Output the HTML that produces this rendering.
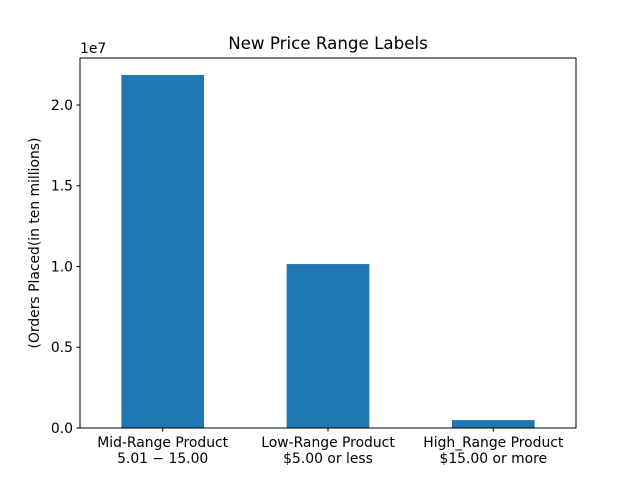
<!DOCTYPE html>
<html><head><meta charset="utf-8"><style>
body{margin:0;background:#fff}
svg{font-family:"DejaVu Sans","Liberation Sans",sans-serif}
</style></head><body>
<svg id="chart" width="640" height="480" viewBox="0 0 640 480">
<rect width="640" height="480" fill="#fff"/>
<text x="328" y="49" font-size="16.7" text-anchor="middle">New Price Range Labels</text>
<text x="80" y="53" font-size="13.9">1e7</text>
<text transform="translate(39,243) rotate(-90)" font-size="13.9" text-anchor="middle">(Orders Placed(in ten millions)</text>
<g id="bars"></g>
<g id="yticks"></g>
<g id="xticks"></g>
<rect x="80" y="58" width="496" height="370" fill="none" stroke="#000" stroke-width="1"/>
</svg>
<script>
const categories = [["Mid-Range Product","5.01 − 15.00"],["Low-Range Product","$5.00 or less"],["High_Range Product","$15.00 or more"]];
const values = [21860000, 10150000, 490000];
const yTicks = [0, 5000000, 10000000, 15000000, 20000000];
const yTickLabels = ["0.0","0.5","1.0","1.5","2.0"];
const L=80,R=576,T=58,B=428,yMax=22910000;
const ns="http://www.w3.org/2000/svg";
const sx=i=>L+(i+0.5)*(R-L)/categories.length;
const sy=v=>B-(v/yMax)*(B-T);
const bw=0.5*(R-L)/categories.length;
function mk(t,a,p){const e=document.createElementNS(ns,t);for(const k in a)e.setAttribute(k,a[k]);p.appendChild(e);return e;}
const gb=document.getElementById('bars'),gy=document.getElementById('yticks'),gx=document.getElementById('xticks');
values.forEach((v,i)=>{
 const r=mk('rect',{x:sx(i)-bw/2,y:sy(v),width:bw,height:B-sy(v),fill:'#1f77b4'},gb);
 
 
 const t=mk('line',{x1:sx(i),x2:sx(i),y1:B,y2:B+3.5,stroke:'#000'},gx);
 
 
 categories[i].forEach((s,j)=>{
  const tx=mk('text',{x:sx(i),y:B+19+j*16,'font-size':13.9,'text-anchor':'middle'},gx);
  tx.textContent=s;
  
  
 });
});
yTicks.forEach((v,i)=>{
 const t=mk('line',{x1:L-3.5,x2:L,y1:sy(v),y2:sy(v),stroke:'#000'},gy);
 
 
 const tx=mk('text',{x:L-7,y:sy(v)+5,'font-size':13.9,'text-anchor':'end'},gy);
 tx.textContent=yTickLabels[i];
 
 
});
</script>
</body></html>
